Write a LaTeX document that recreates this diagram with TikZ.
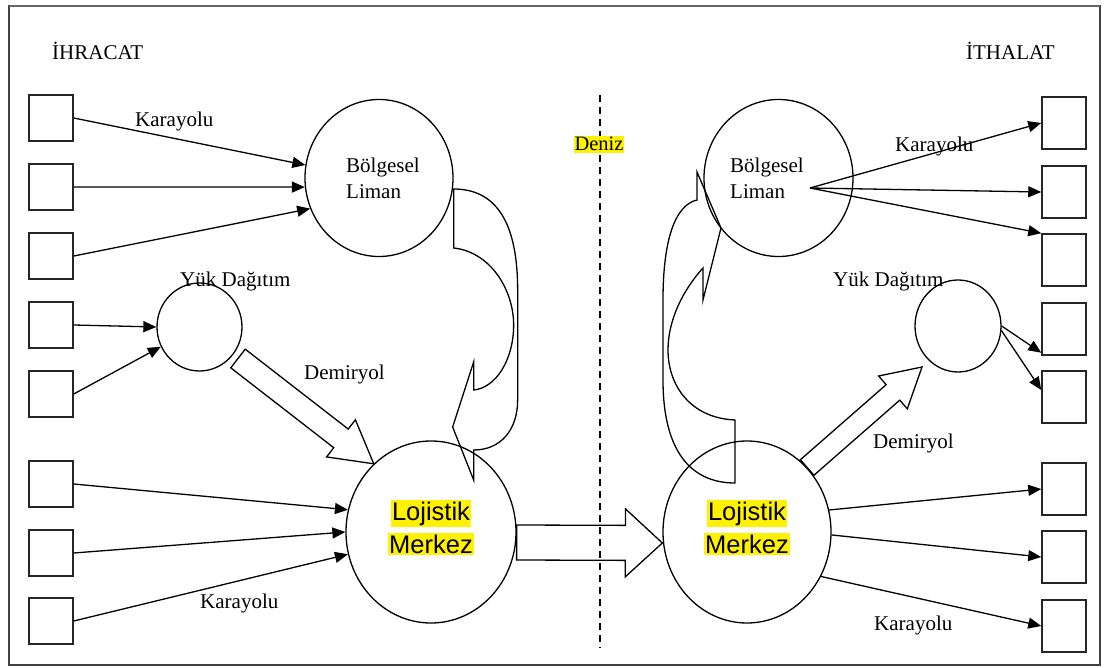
\documentclass[tikz,border=0pt]{standalone}
\usepackage{fontspec}
\setmainfont{Liberation Serif}
\newfontfamily\arialfont{Liberation Sans}
\usetikzlibrary{arrows.meta,calc,shapes.geometric}

\tikzset{
  lbl/.style={font=\fontsize{21}{26}\selectfont, inner sep=0pt, anchor=base west},
  hub/.style={draw, ellipse, inner sep=0pt, line width=1.3pt},
  boxL/.style={draw=black!85, rectangle, minimum width=44pt, minimum height=46pt, inner sep=0pt, line width=1.5pt},
  boxR/.style={boxL, minimum height=52pt},
  road/.style={line width=1.3pt, -{Triangle[length=13pt,width=11pt]}},
  blk/.style={line width=1.3pt, line join=miter},
  hl/.style={fill=yellow, inner xsep=1pt, inner ysep=1.5pt, anchor=base},
  merk/.style={hl, font=\arialfont\fontsize{25.5}{30}\selectfont},
}

% wide outlined arrow: tail, tip, shaft half width, head half width, head length
\newcommand\blockarrow[5]{%
  \draw[blk] ($(#1)!#3!90:(#2)$)
    -- ($(#2)!#5!(#1)!#3!270:(#1)$)
    -- ($(#2)!#5!(#1)!#4!270:(#1)$)
    -- (#2)
    -- ($(#2)!#5!(#1)!#4!90:(#1)$)
    -- ($(#2)!#5!(#1)!#3!90:(#1)$)
    -- ($(#1)!#3!270:(#2)$) -- cycle;}

\begin{document}
\begin{tikzpicture}[x=1pt, y=-1pt]
\useasboundingbox (0,0) rectangle (1106,668);

% outer frame
\draw[line width=1.4pt, black!75] (9,6) rectangle (1100,665);
\draw[line width=2.5pt, black!60] (9,6) -- (1100,6);

% sea border
\coordinate (seaTop) at (600,95);
\coordinate (seaBot) at (600,648);
\draw[line width=1.2pt, dash pattern=on 7pt off 5pt] (seaTop) -- (seaBot);

% export side boxes
\node[boxL] (l1) at (51,118) {};
\node[boxL] (l2) at (51,187) {};
\node[boxL] (l3) at (51,256) {};
\node[boxL] (l4) at (51,325) {};
\node[boxL] (l5) at (51,394) {};
\node[boxL] (l6) at (51,484) {};
\node[boxL] (l7) at (51,553) {};
\node[boxL] (l8) at (51,621) {};

% import side boxes
\node[boxR] (r1) at (1064,123) {};
\node[boxR] (r2) at (1064,192) {};
\node[boxR] (r3) at (1064,260) {};
\node[boxR] (r4) at (1064,329) {};
\node[boxR] (r5) at (1064,397) {};
\node[boxR] (r6) at (1064,489) {};
\node[boxR] (r7) at (1064,557) {};
\node[boxR] (r8) at (1064,626) {};

% hubs
\node[hub, minimum width=148pt, minimum height=157pt] (limL) at (379,178) {};
\node[hub, minimum width=85pt, minimum height=88pt] (yukL) at (199.5,327) {};
\node[hub, minimum width=170pt, minimum height=182pt] (lojL) at (431,532) {};
\node[hub, minimum width=168pt, minimum height=182pt] (lojR) at (747,532) {};
\node[hub, minimum width=149pt, minimum height=157pt] (limR) at (778.5,178) {};
\node[hub, minimum width=86pt, minimum height=92pt] (yukR) at (958,326) {};

% road links, export side
\draw[road] (l1.east) -- (limL.170);
\draw[road] (l2.east) -- (limL.187);
\draw[road] (l3.east) -- (limL.204);
\draw[road] (l4.east) -- (yukL.west);
\draw[road] (l5.east) -- (yukL.207);
\draw[road] (l6.east) -- (lojL.165);
\draw[road] (l7.east) -- (lojL.180);
\draw[road] (l8.east) -- (lojL.195);

% road links, import side
\coordinate (fan) at ($(limR.center)+(31.5,10)$);
\draw[road] (fan) -- (r1.west);
\draw[road] (fan) -- (r2.west);
\draw[road] (fan) -- (r3.north west);
\draw[road] (yukR.east) -- ($(r4.south west)+(0,-3)$);
\draw[road] (yukR.-6) -- ($(r5.west)+(0,-7)$);
\draw[road] (lojR.15) -- (r6.west);
\draw[road] (lojR.-2) -- (r7.west);
\draw[road] (lojR.-31) -- (r8.west);

% rail and sea links
\coordinate (railL) at ($(yukL.center)+(38.5,31.5)$);
\blockarrow{railL}{lojL.130}{11.8pt}{23.5pt}{41.5pt}
\coordinate (railR) at ($(yukR.center)+(-36,41)$);
\blockarrow{lojR.47}{railR}{10.3pt}{21.8pt}{38.6pt}
\coordinate (seaA) at ($(lojL.east)+(0,10.5)$);
\coordinate (seaB) at ($(lojR.west)+(0,11)$);
\blockarrow{seaA}{seaB}{17.5pt}{34pt}{37pt}

% curved link: regional port to logistics centre (export side)
\begin{scope}[shift={(limL.east)}]
  \draw[blk] (0,11) .. controls (47,11) and (64,52) .. (64,112)
    -- (64,222) .. controls (64,252) and (47,272) .. (20,272)
    -- (20,302) -- (-1,249) -- (20,184) -- (20,212)
    .. controls (42,210) and (60,182) .. (60,147)
    .. controls (60,112) and (37,74) .. (0,70) -- cycle;
\end{scope}

% curved link: logistics centre to regional port (import side)
\begin{scope}[shift={(lojR.center)}]
  \draw[blk] (-12,-49) .. controls (-57,-49) and (-84,-82) .. (-84,-152)
    -- (-84,-232) .. controls (-84,-292) and (-72,-327) .. (-50,-332)
    -- (-50,-360) -- (-26,-304) -- (-44,-232) -- (-44,-264)
    .. controls (-64,-242) and (-79,-212) .. (-79,-182)
    .. controls (-79,-147) and (-57,-114) .. (-12,-112) -- cycle;
\end{scope}

% labels
\node[lbl] (tEx) at (52,60) {İHRACAT};
\node[lbl, anchor=base east] (tIm) at (1055,60) {İTHALAT};
\node[lbl] (kTL) at (135,127) {Karayolu};
\node[lbl] (kTR) at (895,152) {Karayolu};
\node[lbl] (kBL) at (200,608) {Karayolu};
\node[lbl] (kBR) at (874,630) {Karayolu};
\node[lbl] (bL1) at (346,173) {Bölgesel};
\node[lbl] (bL2) at (346,199) {Liman};
\node[lbl] (bR1) at (730,173) {Bölgesel};
\node[lbl] (bR2) at (730,199) {Liman};
\node[lbl] (yL) at (180,287) {Yük Dağıtım};
\node[lbl] (yR) at (833,287) {Yük Dağıtım};
\node[lbl] (dL) at (304,379) {Demiryol};
\node[lbl] (dR) at (873,448) {Demiryol};
\node[hl, font=\fontsize{20.5}{24}\selectfont] (sea) at (599,151) {Deniz};
\node[merk] (mL1) at (431,520) {Lojistik};
\node[merk] (mL2) at (431,553) {Merkez};
\node[merk] (mR1) at (747,520) {Lojistik};
\node[merk] (mR2) at (747,553) {Merkez};
\end{tikzpicture}
\end{document}
